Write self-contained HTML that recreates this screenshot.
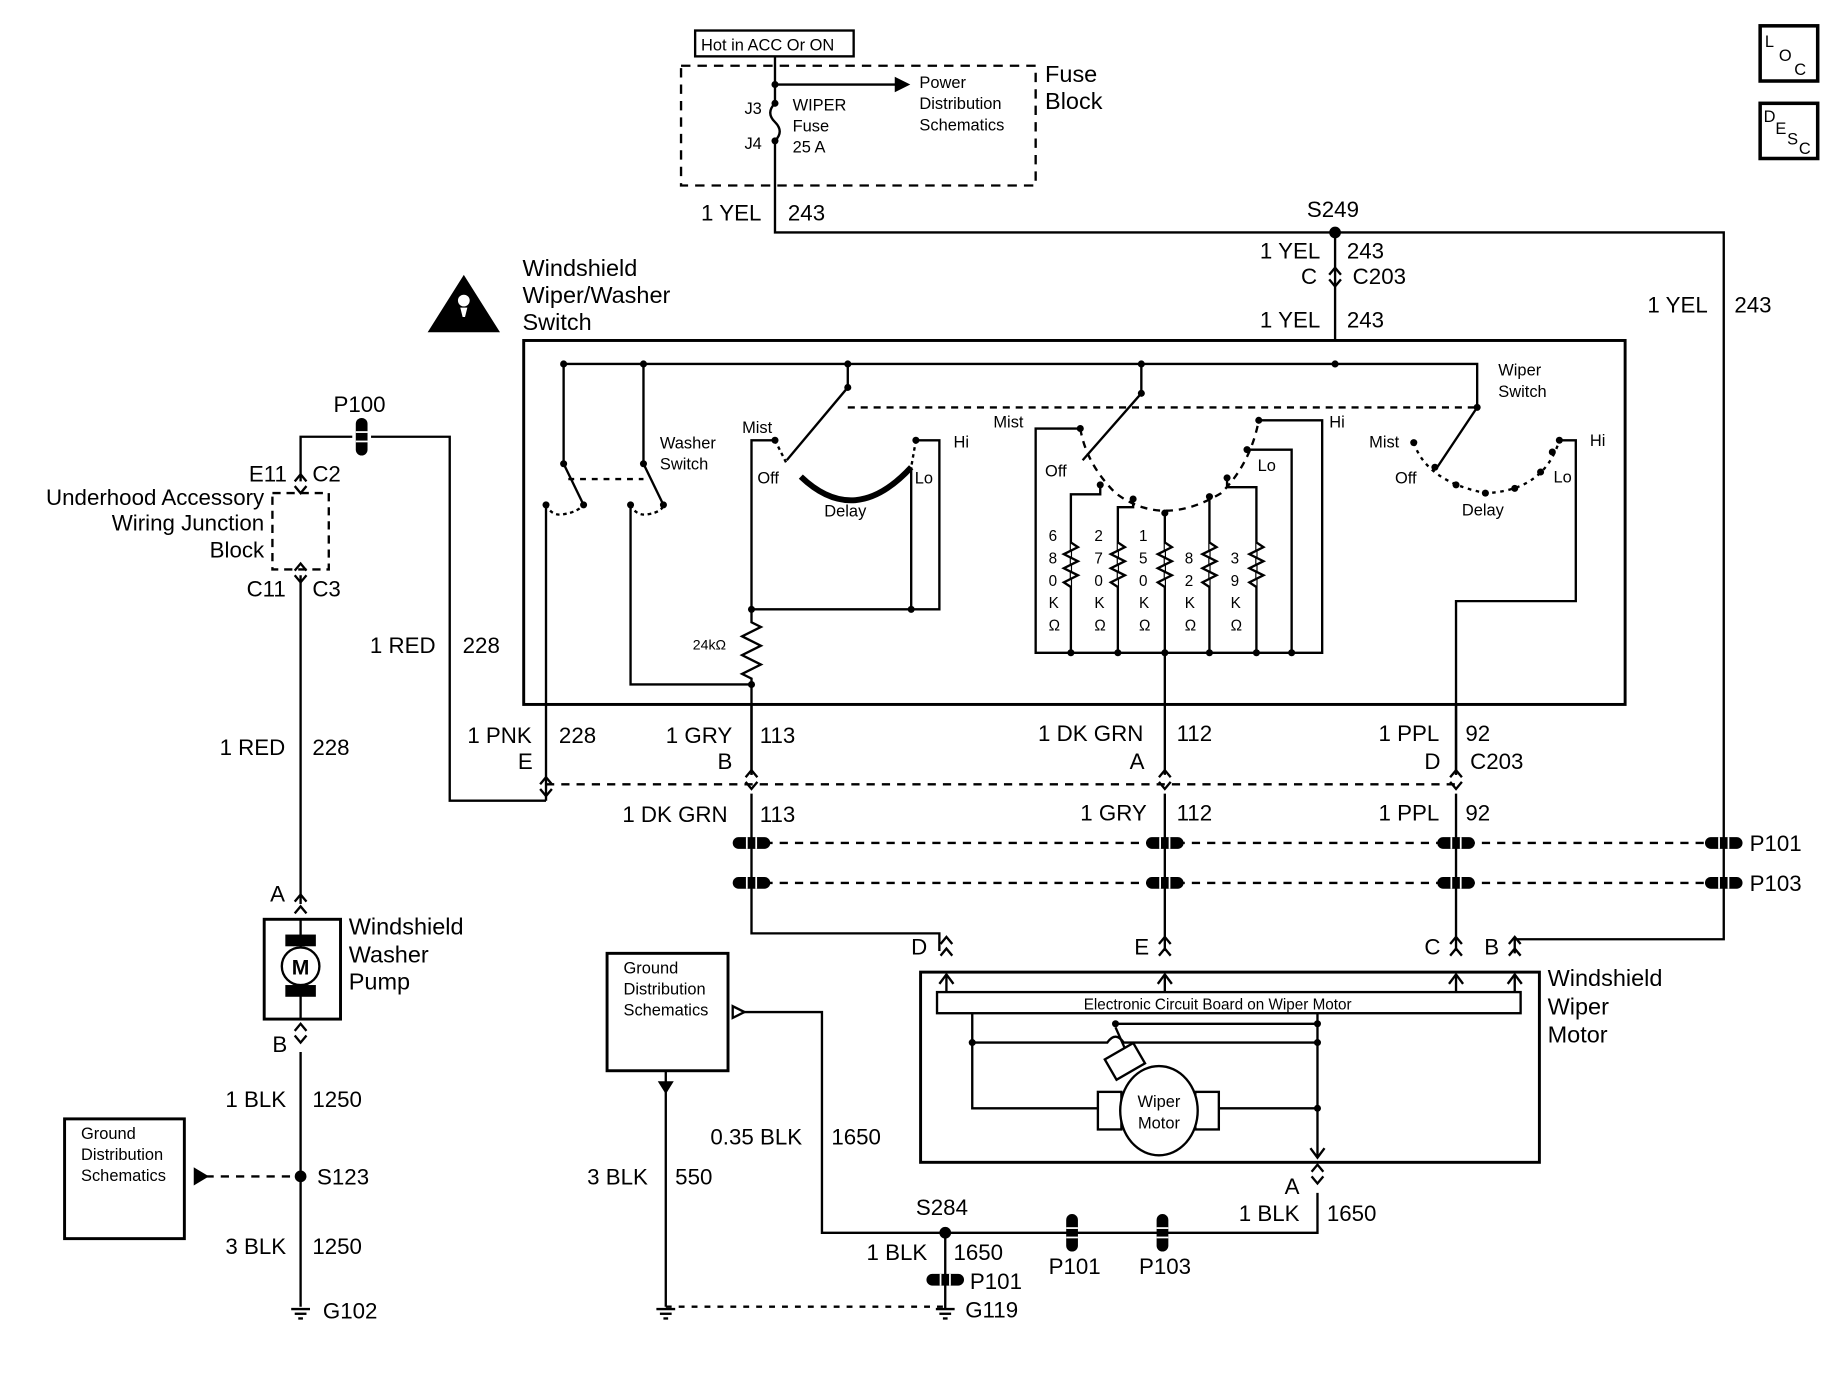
<!DOCTYPE html>
<html><head><meta charset="utf-8"><style>
html,body{margin:0;padding:0;background:#fff}
svg{display:block}
text{font-family:"Liberation Sans",sans-serif;fill:#000}
.t{font-size:19px}
.s{font-size:14px}
.b{font-size:20px}
</style></head><body>
<svg width="1840" height="1376" viewBox="0 0 1567 1172" preserveAspectRatio="none" xmlns="http://www.w3.org/2000/svg">
<defs>
<g id="ch"><polyline points="-5,6 0,0 5,6" fill="none" stroke="#000" stroke-width="2"/><polyline points="-5,16 0,10 5,16" fill="none" stroke="#000" stroke-width="2"/></g>
<g id="chf"><polyline points="-5,6 0,0 5,6" fill="none" stroke="#000" stroke-width="2"/><polyline points="-5,10 0,16 5,10" fill="none" stroke="#000" stroke-width="2"/></g>
<g id="sp"><rect x="-16" y="-5" width="32" height="10" rx="5" fill="#000"/><line x1="-4" y1="-5" x2="-4" y2="5" stroke="#fff" stroke-width="1.5"/><line x1="4" y1="-5" x2="4" y2="5" stroke="#fff" stroke-width="1.5"/></g>
<g id="spv"><rect x="-5" y="-16" width="10" height="32" rx="5" fill="#000"/><line x1="-5" y1="-4" x2="5" y2="-4" stroke="#fff" stroke-width="1.5"/><line x1="-5" y1="4" x2="5" y2="4" stroke="#fff" stroke-width="1.5"/></g>
<g id="gnd"><line x1="-8" y1="0" x2="8" y2="0" stroke="#000" stroke-width="2"/><line x1="-5" y1="4" x2="5" y2="4" stroke="#000" stroke-width="2"/><line x1="-2" y1="8" x2="2" y2="8" stroke="#000" stroke-width="2"/></g>
</defs>
<g fill="none" stroke="#000" stroke-width="2">
<rect x="592" y="26" width="135" height="22"/>
<rect x="580" y="56" width="302" height="102" stroke-dasharray="8,6"/>
<path d="M660 48V72H770M660 72V88 q-8 8 0 16 q8 8 0 16 V198H1468V800H1290V812"/>
<path d="M763 67 l10 5 -10 5z" fill="#000"/>
<path d="M1137 198V290"/>
<rect x="446" y="290" width="938" height="310" stroke-width="2.5"/>
<path d="M480 310H1258V347M480 310V395M548 310V395M722 310V330M972 310V335"/>
<path d="M480 395L497 430M548 395L565 430" />
<path d="M484 408H548" stroke-dasharray="5,5"/>
<path d="M465 430 q5 10 15 8 q12 -2 17 -8M537 430 q5 10 15 8 q12 -2 13 -8" stroke-dasharray="3,3"/>
<path d="M465 430V682M537 430V583H640"/>
<path d="M722 330L670 392" />
<path d="M722 347H1258" stroke-dasharray="6,5"/>
<path d="M660 375H640V519H800V375H780M776 398V519M640 519V530l8 4 -16 8 16 8 -16 8 16 8 -16 8 8 4V660"/>
<path d="M682 406 Q728 450 776 398" stroke-width="5"/>
<path d="M660 375 L670 395M780 375L776 398" stroke-dasharray="3,3"/>
<path d="M972 335L922 392"/>
<path d="M920 365H882V556H1126V358H1072M1062 383H1100V556"/>
<path d="M920 365 Q925 395 950 420 Q990 450 1040 420 Q1065 395 1072 358" stroke-dasharray="6,5"/>
<path d="M912 556V421H937V413M952 556V432H965V425M992 600V437M1030 556V423M1070 556V415H1045V407"/>
<g stroke-width="2">
<path d="M912 462l6 4-12 6 12 6-12 6 12 6-12 6 6 4" fill="#fff"/>
<path d="M952 462l6 4-12 6 12 6-12 6 12 6-12 6 6 4" fill="#fff"/>
<path d="M992 462l6 4-12 6 12 6-12 6 12 6-12 6 6 4" fill="#fff"/>
<path d="M1030 462l6 4-12 6 12 6-12 6 12 6-12 6 6 4" fill="#fff"/>
<path d="M1070 462l6 4-12 6 12 6-12 6 12 6-12 6 6 4" fill="#fff"/>
</g>
<path d="M1258 347L1224 398"/>
<path d="M1328 375H1342V512H1240V660"/>
<path d="M1204 377 Q1215 410 1265 420 Q1315 418 1328 375" stroke-dasharray="3,4"/>
<path d="M465 682H383V372H316M300 372H256V410M256 490V770"/>
<rect x="232" y="420" width="48" height="65" stroke-dasharray="7,5"/>
<path d="M465 668H1240" stroke-dasharray="7,6"/>
<path d="M640 600V660M992 600V660M1240 600V660"/>
<path d="M640 676V795H800V810M992 676V810M1240 676V810"/>
<path d="M625 718H1483M625 752H1483" stroke-dasharray="7,6"/>
<rect x="784" y="828" width="527" height="162" stroke-width="2.5"/>
<rect x="798" y="845" width="497" height="18"/>
<path d="M806 845V830M992 845V830M1240 845V830M1290 845V830"/>
<path d="M828 863V944H935M828 888H943 q7 -10 14 0H1122M950 872H1122M1038 944H1122M1122 863V985"/>
<path d="M1116 978l6 8 6-8M800 838l6-8 6 8M986 838l6-8 6 8M1234 838l6-8 6 8M1284 838l6-8 6 8"/>
<rect x="935" y="930" width="20" height="32"/><rect x="1018" y="930" width="20" height="32"/>
<ellipse cx="987" cy="946" rx="33" ry="38" fill="#fff"/>
<path d="M950 875l8 18" /><rect x="944" y="894" width="28" height="20" transform="rotate(-30 958 904)"/>
<path d="M1122 1016V1050H700V862H632M805 1050V1115"/>
<path d="M624 857l10 5-10 5z"/>
<rect x="517" y="812" width="103" height="100" stroke-width="2.5"/>
<path d="M567 912V1113"/>
<path d="M567 1113H805" stroke-dasharray="5,6"/>
<path d="M562 922l5 8 5-8z" fill="#000"/>
<rect x="225" y="783" width="65" height="85" stroke-width="2.5"/>
<path d="M256 783V868"/>
<circle cx="256" cy="823" r="16" fill="#fff"/>
<rect x="244" y="797" width="24" height="8" fill="#000"/><rect x="244" y="840" width="24" height="8" fill="#000"/>
<path d="M256 896V1113"/>
<rect x="55" y="953" width="102" height="102" stroke-width="2.5"/>
<path d="M175 1002H256" stroke-dasharray="7,6"/>
<path d="M166 996l10 6-10 6z" fill="#000"/>
<rect x="1499" y="22" width="49" height="47" stroke-width="3"/>
<rect x="1499" y="88" width="49" height="47" stroke-width="3"/>
<path d="M366 282L395 236 424 282Z" fill="#000"/>
</g>
<circle cx="395" cy="256" r="5" fill="#fff"/><path d="M392 262h6l-2 8h-2z" fill="#fff"/>
<use href="#chf" x="1137" y="228"/>
<use href="#chf" x="465" y="662"/><use href="#chf" x="640" y="656"/><use href="#chf" x="992" y="656"/><use href="#chf" x="1240" y="656"/>
<use href="#chf" x="256" y="404"/><use href="#chf" x="256" y="480"/>
<use href="#ch" x="256" y="762"/><use href="#chf" x="256" y="872"/>
<use href="#ch" x="806" y="798"/><use href="#ch" x="992" y="798"/><use href="#ch" x="1240" y="798"/><use href="#ch" x="1290" y="798"/>
<use href="#chf" x="1122" y="992"/>
<use href="#spv" x="308" y="372"/>
<use href="#sp" x="640" y="718"/><use href="#sp" x="992" y="718"/><use href="#sp" x="1240" y="718"/><use href="#sp" x="1468" y="718"/>
<use href="#sp" x="640" y="752"/><use href="#sp" x="992" y="752"/><use href="#sp" x="1240" y="752"/><use href="#sp" x="1468" y="752"/>
<use href="#spv" x="913" y="1050"/><use href="#spv" x="990" y="1050"/><use href="#sp" x="805" y="1090"/>
<use href="#gnd" x="256" y="1115"/><use href="#gnd" x="567" y="1115"/><use href="#gnd" x="805" y="1115"/>
<g fill="#000">
<circle cx="1137" cy="198" r="5"/><circle cx="660" cy="72" r="3"/><circle cx="660" cy="88" r="3"/><circle cx="660" cy="120" r="3"/>
<circle cx="480" cy="310" r="3"/><circle cx="548" cy="310" r="3"/><circle cx="722" cy="310" r="3"/><circle cx="972" cy="310" r="3"/><circle cx="1137" cy="310" r="3"/>
<circle cx="480" cy="395" r="3"/><circle cx="548" cy="395" r="3"/><circle cx="465" cy="430" r="3"/><circle cx="497" cy="430" r="3"/><circle cx="537" cy="430" r="3"/><circle cx="565" cy="430" r="3"/>
<circle cx="722" cy="330" r="3"/><circle cx="660" cy="375" r="3"/><circle cx="780" cy="375" r="3"/><circle cx="640" cy="519" r="3"/><circle cx="776" cy="519" r="3"/><circle cx="640" cy="583" r="3"/>
<circle cx="972" cy="335" r="3"/><circle cx="920" cy="365" r="3"/><circle cx="1072" cy="358" r="3"/><circle cx="1062" cy="383" r="3"/><circle cx="937" cy="413" r="3"/><circle cx="965" cy="425" r="3"/><circle cx="992" cy="437" r="3"/><circle cx="1030" cy="423" r="3"/><circle cx="1045" cy="407" r="3"/>
<circle cx="912" cy="556" r="3"/><circle cx="952" cy="556" r="3"/><circle cx="992" cy="556" r="3"/><circle cx="1030" cy="556" r="3"/><circle cx="1070" cy="556" r="3"/><circle cx="1100" cy="556" r="3"/>
<circle cx="1258" cy="347" r="3"/><circle cx="1204" cy="377" r="3"/><circle cx="1328" cy="375" r="3"/><circle cx="1222" cy="398" r="3"/><circle cx="1240" cy="413" r="3"/><circle cx="1265" cy="420" r="3"/><circle cx="1290" cy="416" r="3"/><circle cx="1312" cy="402" r="3"/><circle cx="1322" cy="385" r="3"/>
<circle cx="828" cy="888" r="3"/><circle cx="950" cy="872" r="3"/><circle cx="1122" cy="872" r="3"/><circle cx="1122" cy="888" r="3"/><circle cx="1122" cy="944" r="3"/>
<circle cx="805" cy="1050" r="5"/><circle cx="256" cy="1002" r="5"/>
</g>
<text class="s" x="597" y="43">Hot in ACC Or ON</text>
<text class="s" x="783" y="75">Power</text><text class="s" x="783" y="93">Distribution</text><text class="s" x="783" y="111">Schematics</text>
<text class="s" x="675" y="94">WIPER</text><text class="s" x="675" y="112">Fuse</text><text class="s" x="675" y="130">25 A</text>
<text class="s" x="634" y="97">J3</text><text class="s" x="634" y="127">J4</text>
<text class="b" x="890" y="70">Fuse</text><text class="b" x="890" y="93">Block</text>
<text class="t" x="597" y="188">1 YEL</text><text class="t" x="671" y="188">243</text>
<text class="t" x="1113" y="185">S249</text>
<text class="t" x="1073" y="220">1 YEL</text><text class="t" x="1147" y="220">243</text>
<text class="t" x="1108" y="242">C</text><text class="t" x="1152" y="242">C203</text>
<text class="t" x="1073" y="279">1 YEL</text><text class="t" x="1147" y="279">243</text>
<text class="t" x="1403" y="266">1 YEL</text><text class="t" x="1477" y="266">243</text>
<text class="b" x="445" y="235">Windshield</text><text class="b" x="445" y="258">Wiper/Washer</text><text class="b" x="445" y="281">Switch</text>
<text class="s" x="562" y="382">Washer</text><text class="s" x="562" y="400">Switch</text>
<text class="s" x="632" y="369">Mist</text><text class="s" x="645" y="412">Off</text><text class="s" x="702" y="440">Delay</text><text class="s" x="779" y="412">Lo</text><text class="s" x="812" y="381">Hi</text>
<text class="s" x="590" y="553" style="font-size:12px">24kΩ</text>
<text class="s" x="846" y="364">Mist</text><text class="s" x="890" y="406">Off</text><text class="s" x="1071" y="401">Lo</text><text class="s" x="1132" y="364">Hi</text>
<g class="s" style="font-size:13px">
<text x="893" y="461">6</text><text x="893" y="480">8</text><text x="893" y="499">0</text><text x="893" y="518">K</text><text x="893" y="537">Ω</text>
<text x="932" y="461">2</text><text x="932" y="480">7</text><text x="932" y="499">0</text><text x="932" y="518">K</text><text x="932" y="537">Ω</text>
<text x="970" y="461">1</text><text x="970" y="480">5</text><text x="970" y="499">0</text><text x="970" y="518">K</text><text x="970" y="537">Ω</text>
<text x="1009" y="480">8</text><text x="1009" y="499">2</text><text x="1009" y="518">K</text><text x="1009" y="537">Ω</text>
<text x="1048" y="480">3</text><text x="1048" y="499">9</text><text x="1048" y="518">K</text><text x="1048" y="537">Ω</text>
</g>
<text class="s" x="1166" y="381">Mist</text><text class="s" x="1188" y="412">Off</text><text class="s" x="1245" y="439">Delay</text><text class="s" x="1323" y="411">Lo</text><text class="s" x="1354" y="380">Hi</text>
<text class="s" x="1276" y="320">Wiper</text><text class="s" x="1276" y="338">Switch</text>
<text class="t" x="284" y="351">P100</text>
<text class="t" x="212" y="410">E11</text><text class="t" x="266" y="410">C2</text>
<text class="t" x="225" y="430" text-anchor="end">Underhood Accessory</text><text class="t" x="225" y="452" text-anchor="end">Wiring Junction</text><text class="t" x="225" y="475" text-anchor="end">Block</text>
<text class="t" x="210" y="508">C11</text><text class="t" x="266" y="508">C3</text>
<text class="t" x="315" y="556">1 RED</text><text class="t" x="394" y="556">228</text>
<text class="t" x="187" y="643">1 RED</text><text class="t" x="266" y="643">228</text>
<text class="t" x="398" y="633">1 PNK</text><text class="t" x="476" y="633">228</text><text class="t" x="441" y="655">E</text>
<text class="t" x="567" y="633">1 GRY</text><text class="t" x="647" y="633">113</text><text class="t" x="611" y="655">B</text>
<text class="t" x="884" y="631">1 DK GRN</text><text class="t" x="1002" y="631">112</text><text class="t" x="962" y="655">A</text>
<text class="t" x="1174" y="631">1 PPL</text><text class="t" x="1248" y="631">92</text><text class="t" x="1213" y="655">D</text><text class="t" x="1252" y="655">C203</text>
<text class="t" x="530" y="700">1 DK GRN</text><text class="t" x="647" y="700">113</text>
<text class="t" x="920" y="699">1 GRY</text><text class="t" x="1002" y="699">112</text>
<text class="t" x="1174" y="699">1 PPL</text><text class="t" x="1248" y="699">92</text>
<text class="t" x="1490" y="725">P101</text><text class="t" x="1490" y="759">P103</text>
<text class="t" x="776" y="813">D</text><text class="t" x="966" y="813">E</text><text class="t" x="1213" y="813">C</text><text class="t" x="1264" y="813">B</text>
<text class="b" x="1318" y="840">Windshield</text><text class="b" x="1318" y="864">Wiper</text><text class="b" x="1318" y="888">Motor</text>
<text class="s" x="1037" y="860" text-anchor="middle" style="font-size:13px">Electronic Circuit Board on Wiper Motor</text>
<text class="s" x="987" y="943" text-anchor="middle">Wiper</text><text class="s" x="987" y="961" text-anchor="middle">Motor</text>
<text class="s" x="531" y="829">Ground</text><text class="s" x="531" y="847">Distribution</text><text class="s" x="531" y="865">Schematics</text>
<text class="t" x="605" y="975">0.35 BLK</text><text class="t" x="708" y="975">1650</text>
<text class="t" x="500" y="1009">3 BLK</text><text class="t" x="575" y="1009">550</text>
<text class="t" x="1094" y="1017">A</text>
<text class="t" x="1055" y="1040">1 BLK</text><text class="t" x="1130" y="1040">1650</text>
<text class="t" x="780" y="1035">S284</text>
<text class="t" x="738" y="1073">1 BLK</text><text class="t" x="812" y="1073">1650</text>
<text class="t" x="893" y="1085">P101</text><text class="t" x="970" y="1085">P103</text>
<text class="t" x="826" y="1098">P101</text><text class="t" x="822" y="1122">G119</text>
<text class="t" x="230" y="768">A</text><text class="t" x="232" y="896">B</text>
<text class="b" x="297" y="796">Windshield</text><text class="b" x="297" y="820">Washer</text><text class="b" x="297" y="843">Pump</text>
<text x="256" y="830" text-anchor="middle" style="font-size:18px;font-weight:bold">M</text>
<text class="s" x="69" y="970">Ground</text><text class="s" x="69" y="988">Distribution</text><text class="s" x="69" y="1006">Schematics</text>
<text class="t" x="192" y="943">1 BLK</text><text class="t" x="266" y="943">1250</text>
<text class="t" x="270" y="1009">S123</text>
<text class="t" x="192" y="1068">3 BLK</text><text class="t" x="266" y="1068">1250</text>
<text class="t" x="275" y="1123">G102</text>
<text class="s" x="1503" y="40">L</text><text class="s" x="1515" y="52">O</text><text class="s" x="1528" y="64">C</text>
<text class="s" x="1502" y="104">D</text><text class="s" x="1512" y="114">E</text><text class="s" x="1522" y="123">S</text><text class="s" x="1532" y="131">C</text>
</svg>
</body></html>
